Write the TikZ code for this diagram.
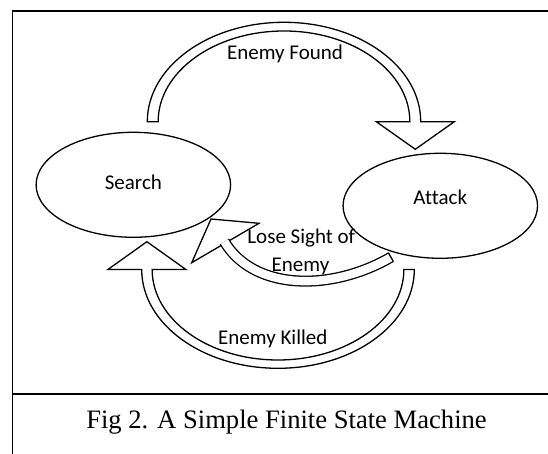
\documentclass[tikz,border=0pt]{standalone}
\usepackage{fontspec}
\setmainfont{Liberation Serif}
\newfontfamily\labelfont[Ligatures=NoCommon]{Carlito}
\usetikzlibrary{shapes.geometric}
\begin{document}
\begin{tikzpicture}[x=1pt,y=1pt,
  state/.style={ellipse, draw, line width=1.3pt, minimum width=194.5pt,
    minimum height=105pt, inner sep=0pt,
    font=\labelfont\fontsize{21}{25}\selectfont},
  blockarrow/.style={draw, line width=1.3pt, fill=white, line join=miter},
  band/.style={draw, line width=1.3pt, double=white, double distance=8.4pt},
  lbl/.style={font=\labelfont\fontsize{21}{28.4}\selectfont, inner sep=0pt},
  frame/.style={line width=1.6pt}]

\useasboundingbox (0,0) rectangle (548,454);

% outer frame and caption rule
\draw[frame] (12.5,0) -- (12.5,442.7) -- (548,442.7);
\draw[frame] (12.5,60) -- (548,60);

% states
\node[state, text height=14pt, text depth=5pt] (search) at (133.35,269.2) {Search};
\node[state, text height=10pt, text depth=11.6pt] (attack) at (440.3,248.2) {Attack};

% Search -> Attack : upper half-ring arrow
\coordinate (efTail) at (152.7,332.3);
\coordinate (efTip) at (415.3,304.7);
\draw[blockarrow] ([xshift=-5.4pt]efTail)
  arc[start angle=180, end angle=0, x radius=136.7, y radius=99.4]
  -- ++(33.6,0) -- (efTip) -- ++(-39,27.6) -- ++(33.55,0)
  arc[start angle=0, end angle=180, x radius=125.85, y radius=90.7] -- cycle;

% Attack -> Search : lower half-ring arrow
\coordinate (ekTail) at (409.1,184.5);
\coordinate (ekTip) at (146.9,212.3);
\draw[blockarrow] ([xshift=5.2pt]ekTail)
  arc[start angle=0, end angle=-180, x radius=136.3, y radius=98.8]
  -- ++(-33.8,0) -- (ekTip) -- ++(39,-27.8) -- ++(-33.75,0)
  arc[start angle=-180, end angle=0, x radius=125.85, y radius=90.5] -- cycle;

% Attack -> Search : short curved arrow
\coordinate (lsTip) at (211,235);
\coordinate (lsStart) at (224.4,212.4);
\coordinate (lsEnd) at (390.9,196.8);
\draw[blockarrow] (lsTip) -- (259,230.7) -- (191.7,191.3) -- cycle;
\draw[band] (lsStart) .. controls (253.4,163.6) and (330.3,161.8) .. (lsEnd);
\draw[line width=1.3pt] ([shift={(-2.55,4.42)}]lsEnd) -- ([shift={(2.55,-4.42)}]lsEnd);

% labels
\node[lbl, anchor=base] (foundlbl) at (285,394) {Enemy Found};
\node[lbl, anchor=base] (killedlbl) at (272.8,109.7) {Enemy Killed};
\node[lbl, anchor=base] (loselbl1) at (301.3,210.7) {Lose Sight of};
\node[lbl, anchor=base] (loselbl2) at (300.5,182.3) {Enemy};

% caption
\node[font=\fontsize{26.6}{30}\selectfont, inner sep=0pt, anchor=base] (caption)
  at (286.5,25) {Fig 2. A Simple Finite State Machine};
\end{tikzpicture}
\end{document}
